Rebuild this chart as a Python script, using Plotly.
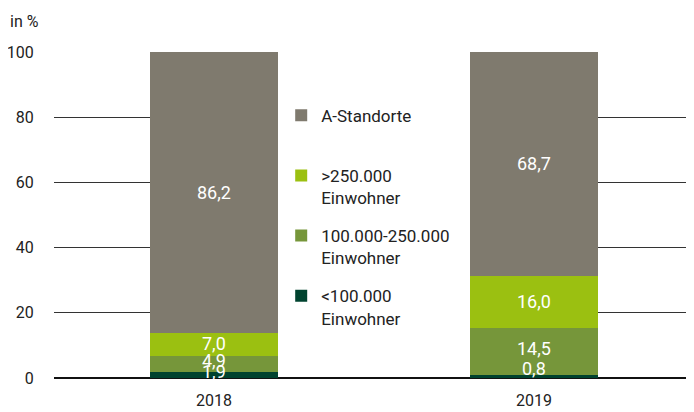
import plotly.graph_objects as go

years = ["2018", "2019"]
series_names = ["<100.000<br>Einwohner", "100.000-250.000<br>Einwohner", ">250.000<br>Einwohner", "A-Standorte<br>\u00a0"]
v_lt100k = [1.9, 0.8]
v_100_250k = [4.9, 14.5]
v_gt250k = [7.0, 16.0]
v_a = [86.2, 68.7]
colors = ["#00432f", "#76963a", "#9bc011", "#7f7a6e"]
legend_ranks = [4, 3, 2, 1]
label_shift = [[3, 8], [3, 3], [1, 1], [0, 0]]  # pixel nudges for labels
y_ticks = [0, 20, 40, 60, 80, 100]

series = [v_lt100k, v_100_250k, v_gt250k, v_a]
FONT = "Roboto, Noto Sans, sans-serif"

fig = go.Figure()
for idx, (name, vals, col, rk) in enumerate(zip(series_names, series, colors, legend_ranks)):
    fig.add_trace(go.Bar(
        x=years, y=vals, name=name, marker_color=col,
        marker_line_width=0, width=0.4, legendrank=rk, legendgroup=f"g{rk}",
    ))

# value labels at segment midpoints
annotations = []
for i, yr in enumerate(years):
    base = 0
    for s, vals in enumerate(series):
        mid = base + vals[i] / 2
        annotations.append(dict(
            x=i, y=mid, xref="x", yref="y", showarrow=False,
            text=f"{vals[i]:.1f}".replace(".", ","),
            font=dict(color="white", size=18, family=FONT),
            yshift=label_shift[s][i],
        ))
        base += vals[i]

annotations.append(dict(x=0.0, y=1.0, xref="paper", yref="paper", xanchor="left", yanchor="bottom",
                        xshift=-46, yshift=19, showarrow=False, text="in %",
                        font=dict(size=16, color="#222", family=FONT)))

fig.update_layout(
    width=686, height=404,
    margin=dict(l=46, r=0, t=44, b=34),
    paper_bgcolor="white", plot_bgcolor="white",
    barmode="stack",
    font=dict(family=FONT, size=16, color="#222"),
    showlegend=True,
    legend=dict(
        x=0.355, y=0.86, xanchor="left", yanchor="top",
        traceorder="grouped", tracegroupgap=13,
        valign="top", bgcolor="rgba(0,0,0,0)",
        font=dict(size=17, color="#222", family=FONT),
        itemwidth=30,
    ),
    annotations=annotations,
    xaxis=dict(type="category", range=[-0.5, 1.5], showgrid=False, zeroline=False,
               showline=False, ticks="outside", ticklen=8, tickcolor="rgba(0,0,0,0)",
               tickfont=dict(size=16, color="#222")),
    yaxis=dict(range=[0, 100], tickvals=y_ticks, showgrid=True, gridcolor="#333", gridwidth=1,
               zeroline=True, zerolinecolor="#111", zerolinewidth=2,
               ticks="outside", ticklen=16, tickcolor="rgba(0,0,0,0)",
               tickfont=dict(size=16, color="#222")),
    shapes=[dict(type="rect", xref="x", yref="y", x0=0.2, x1=0.8, y0=0.6, y1=99.6,
                 fillcolor="white", line_width=0, layer="between")],
)

fig.write_html("out.html")
